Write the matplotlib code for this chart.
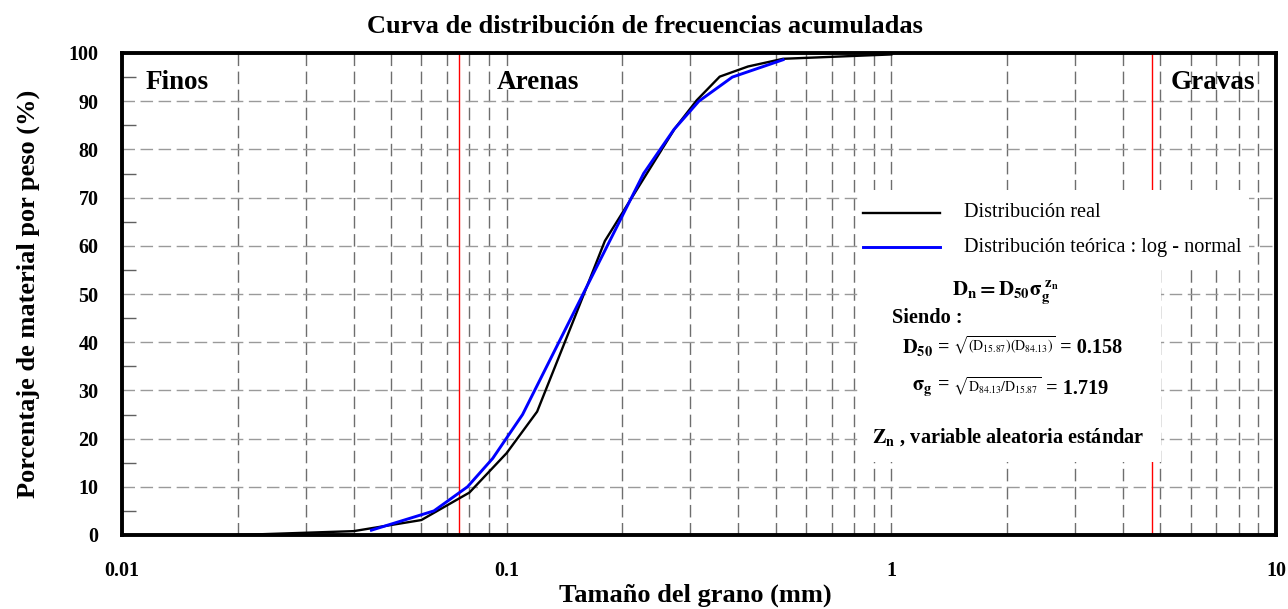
import matplotlib
matplotlib.use("Agg")
import matplotlib.pyplot as plt
from matplotlib.patches import Rectangle
from matplotlib.ticker import LogLocator, FixedLocator, MultipleLocator, NullFormatter

plt.rcParams['font.family'] = ['Liberation Serif', 'DejaVu Serif']
plt.rcParams['mathtext.fontset'] = 'stix'

# Curva real (tamiz) y teorica log-normal
real_size = [0.02, 0.04, 0.06, 0.08, 0.1, 0.12, 0.15, 0.18, 0.274, 0.312, 0.358, 0.424, 0.523, 1.0]
real_pct = [0.0, 0.8, 3.1, 8.8, 17.0, 25.6, 45.0, 61.0, 84.4, 90.2, 95.1, 97.2, 98.8, 99.7]

theo_size = [0.0445, 0.0647, 0.0791, 0.092, 0.110, 0.158, 0.227, 0.272, 0.316, 0.386, 0.523]
theo_pct = [1.0, 5.0, 10.0, 15.9, 25.0, 50.0, 75.0, 84.1, 90.0, 95.0, 98.6]

limits = [0.075, 4.75]  # finos / arenas / gravas
x_ticks = [0.01, 0.1, 1, 10]
x_tick_labels = ['0.01', '0.1', '1', '10']
y_ticks = list(range(0, 101, 10))

W, H = 1288, 609
fig = plt.figure(figsize=(W / 100, H / 100), dpi=100)
ax = fig.add_axes([122 / W, (H - 535) / H, 1154 / W, 482 / H])

ax.set_xscale('log')
ax.set_xlim(0.01, 10)
ax.set_ylim(0, 100)

# grilla
dash = (0, (9, 4))
ax.xaxis.set_major_locator(FixedLocator(x_ticks))
ax.xaxis.set_minor_locator(LogLocator(base=10, subs=range(2, 10)))
ax.xaxis.set_minor_formatter(NullFormatter())
ax.set_xticklabels(x_tick_labels)
ax.yaxis.set_major_locator(FixedLocator(y_ticks))
ax.yaxis.set_minor_locator(MultipleLocator(5))
ax.xaxis.grid(True, which='both', color='#6e6e6e', linestyle=dash, lw=1)
ax.yaxis.grid(True, which='major', color='#9a9a9a', linestyle=dash, lw=1)
ax.set_axisbelow(True)

ax.tick_params(axis='x', which='both', length=0, pad=19, labelsize=14.5)
ax.tick_params(axis='y', which='major', length=0, pad=17, labelsize=14.5)
ax.tick_params(axis='y', which='minor', direction='in', length=10, width=1, color='#606060')
for lab in ax.get_xticklabels() + ax.get_yticklabels():
    lab.set_fontweight('bold')

for sp in ax.spines.values():
    sp.set_linewidth(2.8)

for lim in limits:
    ax.axvline(lim, color='red', lw=1, zorder=2)

ax.plot(real_size, real_pct, color='black', lw=1.7, zorder=4)
ax.plot(theo_size, theo_pct, color='#0000ff', lw=2.1, zorder=5)

# cajas blancas de leyenda y formulas
ax.add_patch(Rectangle((0.638, 0.560), 0.339, 0.156, transform=ax.transAxes,
                       facecolor='white', edgecolor='none', zorder=6))
ax.add_patch(Rectangle((0.638, 0.151), 0.262, 0.41, transform=ax.transAxes,
                       facecolor='white', edgecolor='none', zorder=6))

fs = 14.6
ax.plot([0.642, 0.709], [0.669, 0.669], color='black', lw=1.7, transform=ax.transAxes, zorder=7)
ax.plot([0.642, 0.709], [0.597, 0.597], color='#0000ff', lw=2.1, transform=ax.transAxes, zorder=7)
ax.text(0.730, 0.669, 'Distribución real', transform=ax.transAxes, fontsize=fs,
        va='center', zorder=8)
ax.text(0.730, 0.597, 'Distribución teórica : log - normal', transform=ax.transAxes,
        fontsize=fs, va='center', zorder=8)

ax.text(0.766, 0.502, r'$\mathbf{D_n = D_{50}\sigma_g^{\ z_n}}$', transform=ax.transAxes,
        fontsize=15, ha='center', va='center', zorder=8)
ax.text(0.667, 0.450, 'Siendo :', transform=ax.transAxes, fontsize=fs,
        fontweight='bold', va='center', zorder=8)

# D50 = raiz(...) = 0.158, por partes para que la raiz quede chica
t1 = ax.text(0.676, 0.388, r'$\mathbf{D_{50}}$ =', transform=ax.transAxes, fontsize=fs,
             fontweight='bold', va='center', zorder=8)
t2 = ax.annotate(r' $\sqrt{(\mathrm{D}_{15.87})(\mathrm{D}_{84.13})}$', xy=(1, 0.62), xycoords=t1,
                 fontsize=10, va='center', zorder=8)
ax.annotate(' = 0.158', xy=(1, 0.38), xycoords=t2, fontsize=fs, fontweight='bold',
            va='center', zorder=8)

t3 = ax.text(0.685, 0.303, r'$\mathbf{\sigma_g}$ =', transform=ax.transAxes, fontsize=fs,
             fontweight='bold', va='center', zorder=8)
t4 = ax.annotate(r' $\sqrt{\mathrm{D}_{84.13}/\mathrm{D}_{15.87}}$', xy=(1, 0.62), xycoords=t3,
                 fontsize=10, va='center', zorder=8)
ax.annotate(' = 1.719', xy=(1, 0.38), xycoords=t4, fontsize=fs, fontweight='bold',
            va='center', zorder=8)

ax.text(0.650, 0.203, r'$\mathbf{Z_n}$ , variable aleatoria estándar', transform=ax.transAxes,
        fontsize=fs, fontweight='bold', va='center', zorder=8)

# zonas
ax.text(0.020, 0.9245, 'Finos', transform=ax.transAxes, fontsize=19.5, fontweight='bold',
        va='baseline')
ax.text(0.325, 0.9245, 'Arenas', transform=ax.transAxes, fontsize=19.5, fontweight='bold',
        va='baseline')
ax.text(0.982, 0.9245, 'Gravas', transform=ax.transAxes, fontsize=19.5, fontweight='bold',
        va='baseline', ha='right')

fig.text(645 / W, 1 - 33 / H, 'Curva de distribución de frecuencias acumuladas', fontsize=19,
         fontweight='bold', ha='center', va='baseline')
fig.text(695 / W, 1 - 602 / H, 'Tamaño del grano (mm)', fontsize=19, fontweight='bold',
         ha='center', va='baseline')
fig.text(28 / W, 1 - 294 / H, 'Porcentaje de material por peso (%)', fontsize=19,
         fontweight='bold', ha='center', va='center', rotation=90)

fig.savefig('out.png', dpi=100)
